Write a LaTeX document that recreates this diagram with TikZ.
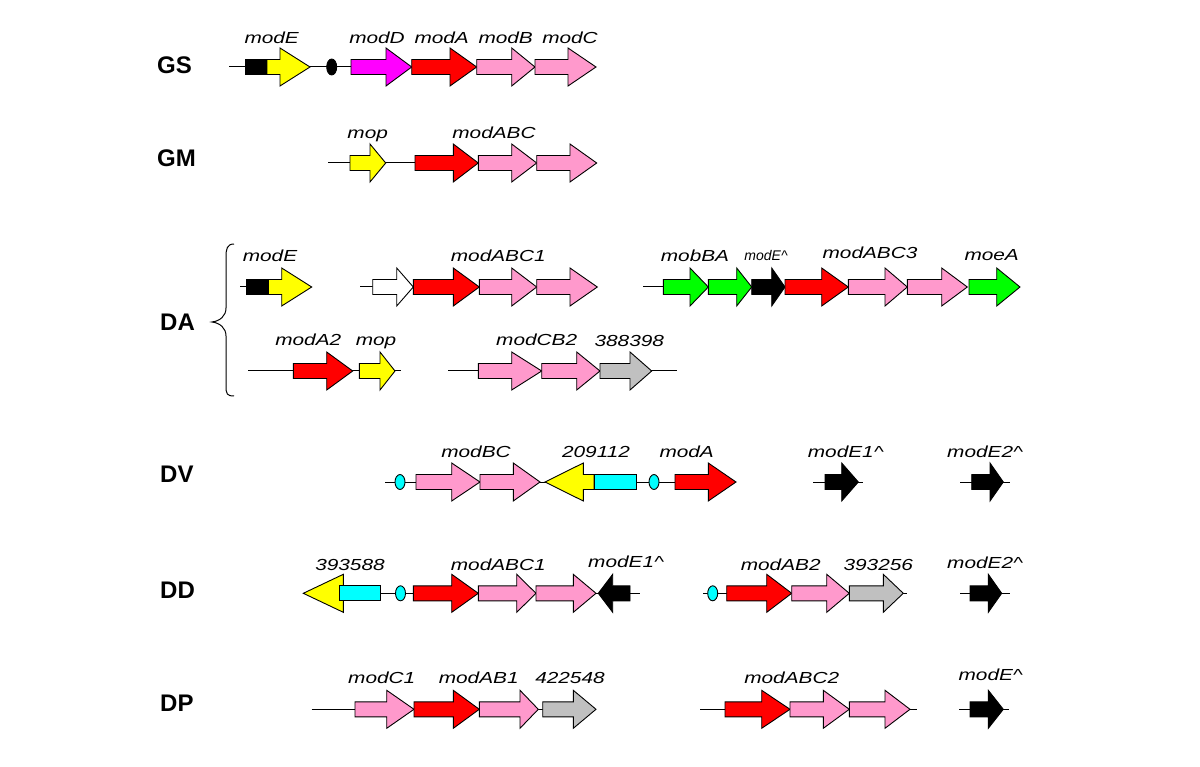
\documentclass[tikz,border=0pt]{standalone}
\usepackage{fontspec}
\usepackage{xcolor}
\usepackage{tikz}
\newfontfamily\genefont[FakeStretch=1.3]{Liberation Sans}
\newfontfamily\rowfont{Liberation Sans}

\definecolor{genered}{RGB}{255,0,0}
\definecolor{genepink}{RGB}{255,153,204}
\definecolor{geneyellow}{RGB}{255,255,0}
\definecolor{genegreen}{RGB}{0,255,0}
\definecolor{genegrey}{RGB}{192,192,192}
\definecolor{genecyan}{RGB}{0,255,255}
\definecolor{genemagenta}{RGB}{255,0,255}

% gene arrow: start, head base, tip, row y, fill
\newcommand{\genearrow}[5]{\draw[gene, fill=#5] (#1,{#4-7.5}) -- (#2,{#4-7.5}) -- (#2,{#4-19}) -- (#3,#4) -- (#2,{#4+19}) -- (#2,{#4+7.5}) -- (#1,{#4+7.5}) -- cycle;}
% box domain: left, right, row y, fill
\newcommand{\genebox}[4]{\draw[gene, fill=#4] (#1,{#3-7.5}) rectangle (#2,{#3+7.5});}

\begin{document}
\begin{tikzpicture}[
    x=1pt, y=-1pt,
    gene/.style={draw, line width=0.9pt, line join=miter},
    backbone/.style={line width=1pt},
    site/.style={draw, line width=0.9pt},
    lbl/.style={font=\genefont\itshape\fontsize{16}{19}\selectfont, anchor=base, inner sep=0pt},
    small lbl/.style={font=\rowfont\itshape\fontsize{14}{17}\selectfont, anchor=base, inner sep=0pt},
    rowlbl/.style={font=\rowfont\bfseries\fontsize{24}{28}\selectfont, anchor=west, inner sep=0pt},
]
\useasboundingbox (0,0) rectangle (1200,767);

% GS
\node[rowlbl] (gs) at (157,65) {GS};
\draw[backbone] (229,67) -- (351,67);
\genebox{245.3}{267}{67}{black}
\genearrow{267}{280}{310}{67}{geneyellow}
\draw[site, fill=black] (331.7,67) ellipse [x radius=5pt, y radius=8pt];
\genearrow{351}{386}{411.7}{67}{genemagenta}
\genearrow{411.7}{450}{476.7}{67}{genered}
\genearrow{476.7}{511.7}{535}{67}{genepink}
\genearrow{535}{568}{596}{67}{genepink}
\node[lbl] (gsE) at (271.7,44) {modE};
\node[lbl] (gsD) at (377,44) {modD};
\node[lbl] (gsA) at (441.7,44) {modA};
\node[lbl] (gsB) at (505.7,44) {modB};
\node[lbl] (gsC) at (570,44) {modC};

% GM
\node[rowlbl] (gm) at (157,158) {GM};
\draw[backbone] (328.3,163) -- (415,163);
\genearrow{350}{370}{385.7}{163}{geneyellow}
\genearrow{415}{453.3}{478.3}{163}{genered}
\genearrow{478.3}{511.7}{536.7}{163}{genepink}
\genearrow{536.7}{570}{596.7}{163}{genepink}
\node[lbl] (gmop) at (367.7,139) {mop};
\node[lbl] (gmABC) at (494,139) {modABC};

% DA
\node[rowlbl] (da) at (160,322) {DA};
\draw[line width=1pt] (234,244) .. controls (227,244) and (226,249) .. (226,257) -- (226,308)
    .. controls (226,316) and (220,321) .. (212,322) .. controls (220,323) and (226,328) .. (226,336)
    -- (226,386) .. controls (226,394) and (227,396) .. (234,396);

% DA upper operons
\draw[backbone] (240,287) -- (247,287);
\genebox{246.7}{268.3}{287}{black}
\genearrow{268.3}{281.7}{311.7}{287}{geneyellow}
\draw[backbone] (360,287) -- (373,287);
\genearrow{372.7}{396.7}{413.3}{287}{white}
\genearrow{413.3}{453.3}{479.3}{287}{genered}
\genearrow{479.3}{511.7}{536.7}{287}{genepink}
\genearrow{536.7}{570}{597.3}{287}{genepink}
\draw[backbone] (643.3,287) -- (664,287);
\genearrow{663.3}{690}{708.3}{287}{genegreen}
\genearrow{708.3}{736.7}{751.7}{287}{genegreen}
\genearrow{751.7}{771.7}{785}{287}{black}
\genearrow{785}{821.7}{848.3}{287}{genered}
\genearrow{848.3}{885}{907.3}{287}{genepink}
\genearrow{907.3}{941.7}{967.3}{287}{genepink}
\genearrow{969}{996.7}{1020}{287}{genegreen}
\node[lbl] (daE) at (270,262) {modE};
\node[lbl] (daABC1) at (498.3,261.5) {modABC1};
\node[lbl] (daBA) at (695,262) {mobBA};
\node[small lbl] (daEh) at (766,261) {modE\textasciicircum};
\node[lbl] (daABC3) at (870,258.5) {modABC3};
\node[lbl] (damoe) at (991.7,260.5) {moeA};

% DA lower operons
\draw[backbone] (248.3,371) -- (401,371);
\genearrow{293.3}{326.7}{352.7}{371}{genered}
\genearrow{359.3}{380}{395}{371}{geneyellow}
\draw[backbone] (448.3,371) -- (676.7,371);
\genearrow{478.3}{511.7}{541.7}{371}{genepink}
\genearrow{541.7}{576.7}{600}{371}{genepink}
\genearrow{600}{630}{651.7}{371}{genegrey}
\node[lbl] (daA2) at (308.3,345.5) {modA2};
\node[lbl] (damop) at (376,345.5) {mop};
\node[lbl] (daCB2) at (536.7,345.5) {modCB2};
\node[lbl] (da388) at (629.3,347) {388398};

% DV
\node[rowlbl] (dv) at (160,474) {DV};
\draw[backbone] (385,482) -- (675,482);
\draw[site, fill=genecyan] (400,482) ellipse [x radius=5pt, y radius=7.5pt];
\genearrow{416}{451.7}{480}{482}{genepink}
\genearrow{480}{513.3}{540}{482}{genepink}
\genearrow{594}{583.3}{545}{482}{geneyellow}
\genebox{594}{636}{482}{genecyan}
\draw[site, fill=genecyan] (654,482) ellipse [x radius=5pt, y radius=7.5pt];
\genearrow{675}{708.3}{736}{482}{genered}
\draw[backbone] (813.3,482) -- (863.3,482);
\genearrow{825}{841.7}{858.3}{482}{black}
\draw[backbone] (960,482) -- (1010,482);
\genearrow{971.7}{990}{1003.3}{482}{black}
\node[lbl] (dvBC) at (476,457) {modBC};
\node[lbl] (dv209) at (596,457) {209112};
\node[lbl] (dvA) at (686.7,457) {modA};
\node[lbl] (dvE1) at (845.7,457) {modE1\textasciicircum};
\node[lbl] (dvE2) at (985,457) {modE2\textasciicircum};

% DD
\node[rowlbl] (dd) at (160,590) {DD};
\draw[backbone] (380.7,593.3) -- (640,593.3);
\genearrow{343.3}{343.3}{303.3}{593.3}{geneyellow}
\genebox{339.3}{380.7}{593.3}{genecyan}
\draw[site, fill=genecyan] (400.5,593.3) ellipse [x radius=5pt, y radius=7.5pt];
\genearrow{413.3}{451.7}{478.3}{593.3}{genered}
\genearrow{478.3}{516.7}{536}{593.3}{genepink}
\genearrow{536}{573.3}{596}{593.3}{genepink}
\genearrow{630}{612.7}{598.3}{593.3}{black}
\draw[backbone] (703.3,593.3) -- (906.7,593.3);
\draw[site, fill=genecyan] (712.7,593.3) ellipse [x radius=5pt, y radius=7.5pt];
\genearrow{726.7}{766.7}{791.7}{593.3}{genered}
\genearrow{791.7}{826.7}{849.3}{593.3}{genepink}
\genearrow{849.3}{883.3}{903.3}{593.3}{genegrey}
\draw[backbone] (960,593.3) -- (1010,593.3);
\genearrow{970}{988.3}{1001.7}{593.3}{black}
\node[lbl] (dd393a) at (350,570.5) {393588};
\node[lbl] (ddABC1) at (498.3,570.5) {modABC1};
\node[lbl] (ddE1) at (626,567.5) {modE1\textasciicircum};
\node[lbl] (ddAB2) at (780.7,570.5) {modAB2};
\node[lbl] (dd393b) at (878.3,570.5) {393256};
\node[lbl] (ddE2) at (985,568.5) {modE2\textasciicircum};

% DP
\node[rowlbl] (dp) at (160,703) {DP};
\draw[backbone] (311.7,709.3) -- (545,709.3);
\genearrow{355}{386.7}{414}{709.3}{genepink}
\genearrow{414}{453.3}{479.3}{709.3}{genered}
\genearrow{479.3}{520}{538.3}{709.3}{genepink}
\genearrow{542.7}{573.3}{596}{709.3}{genegrey}
\draw[backbone] (700,709.3) -- (916.7,709.3);
\genearrow{725}{761.7}{790}{709.3}{genered}
\genearrow{790}{823.3}{849.3}{709.3}{genepink}
\genearrow{849.3}{885}{910}{709.3}{genepink}
\draw[backbone] (959.3,709.3) -- (1009.3,709.3);
\genearrow{970}{988.3}{1003.3}{709.3}{black}
\node[lbl] (dpC1) at (381.7,683.5) {modC1};
\node[lbl] (dpAB1) at (478.7,683.5) {modAB1};
\node[lbl] (dp422) at (570,683.5) {422548};
\node[lbl] (dpABC2) at (791.7,683.5) {modABC2};
\node[lbl] (dpE) at (990.7,680.5) {modE\textasciicircum};

\end{tikzpicture}
\end{document}
